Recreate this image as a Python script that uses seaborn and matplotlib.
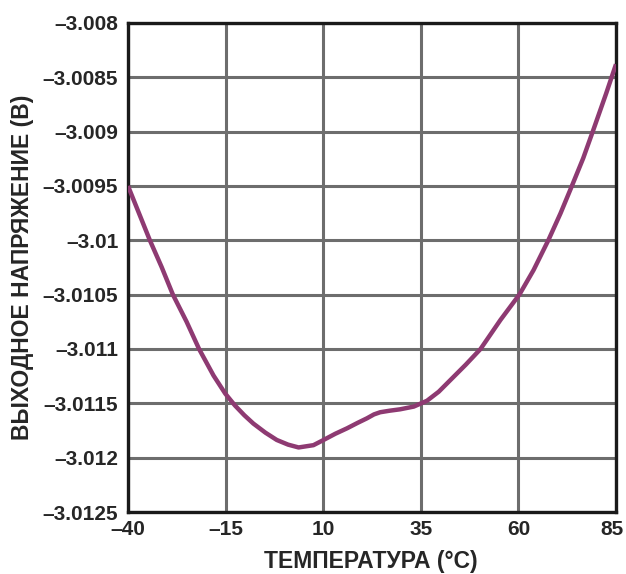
import matplotlib
matplotlib.use("Agg")
import matplotlib.pyplot as plt
import matplotlib.transforms as mtransforms
import seaborn as sns
import pandas as pd
from matplotlib.ticker import FuncFormatter

# values
temp = [-40, -37.2, -34.4, -31.4, -28.5, -25.0, -21.8, -18.1, -15.1, -12.6, -10.2,
        -7.9, -4.8, -1.9, 1.0, 3.7, 7.5, 10.1, 13.1, 16.1, 18.8, 21.2, 23.0, 24.6,
        27.0, 29.7, 33.2, 36.6, 39.6, 42.6, 46.5, 50.3, 55.4, 60.3, 63.9, 67.7,
        70.8, 73.7, 76.6, 79.1, 82.5, 85]
vout = [-3.0095, -3.00975, -3.0100, -3.010245, -3.0105, -3.010749, -3.0110,
        -3.011244, -3.01141, -3.01152, -3.01161, -3.011686, -3.01177, -3.011837,
        -3.01188, -3.011906, -3.011885, -3.011837, -3.01178, -3.01173, -3.01168,
        -3.011638, -3.011602, -3.011582, -3.011568, -3.011555, -3.01153, -3.011476,
        -3.011393, -3.011285, -3.011145, -3.0110, -3.010733, -3.010497, -3.010273,
        -3.009997, -3.009751, -3.0095, -3.009245, -3.008994, -3.008647, -3.00838]

xticks = [-40, -15, 10, 35, 60, 85]
yticks = [-3.0125, -3.012, -3.0115, -3.011, -3.0105, -3.01, -3.0095, -3.009, -3.0085, -3.008]

df = pd.DataFrame({"t": temp, "v": vout})

sns.set_style("white")
plt.rcParams['font.family'] = ['Liberation Sans', 'DejaVu Sans']

fig = plt.figure(figsize=(6.26, 5.74), dpi=100)
ax = fig.add_axes([0.2045, 0.108, 0.7795, 0.852])

sns.lineplot(data=df, x="t", y="v", ax=ax, color="#8e3a72", linewidth=3.2,
             solid_joinstyle="round", solid_capstyle="butt", zorder=3)

ax.set_xlim(-40, 85)
ax.set_ylim(-3.0125, -3.008)
ax.set_xticks(xticks)
ax.set_yticks(yticks)


def dash_fmt(v, pos):
    s = f"{v:.4f}".rstrip("0").rstrip(".")
    return s.replace("-", "\u2013")


ax.xaxis.set_major_formatter(FuncFormatter(dash_fmt))
ax.yaxis.set_major_formatter(FuncFormatter(dash_fmt))
ax.tick_params(length=0, labelsize=15)
ax.tick_params(axis="y", pad=7)
ax.tick_params(axis="x", pad=6)
for lab in ax.get_xticklabels() + ax.get_yticklabels():
    lab.set_fontweight("bold")

# keep the last x label inside the canvas
last = ax.get_xticklabels()[-1]
last.set_transform(last.get_transform() +
                   mtransforms.ScaledTranslation(-4 / 100, 0, fig.dpi_scale_trans))

ax.grid(True, color="#6d6d6d", linewidth=2.2)
ax.set_axisbelow(True)
for sp in ax.spines.values():
    sp.set_color("#1a1a1a")
    sp.set_linewidth(2.4)
    sp.set_visible(True)

ax.set_xlabel("ТЕМПЕРАТУРА (°C)", fontsize=16.5, fontweight="bold")
ax.set_ylabel("ВЫХОДНОЕ НАПРЯЖЕНИЕ (В)", fontsize=16.5, fontweight="bold")
ax.xaxis.set_label_coords(0.497, -0.102)
ax.yaxis.set_label_coords(-0.217, 0.5)
ax.xaxis.label.set_va("center")
ax.yaxis.label.set_va("center")

fig.savefig("out.png", dpi=100)
